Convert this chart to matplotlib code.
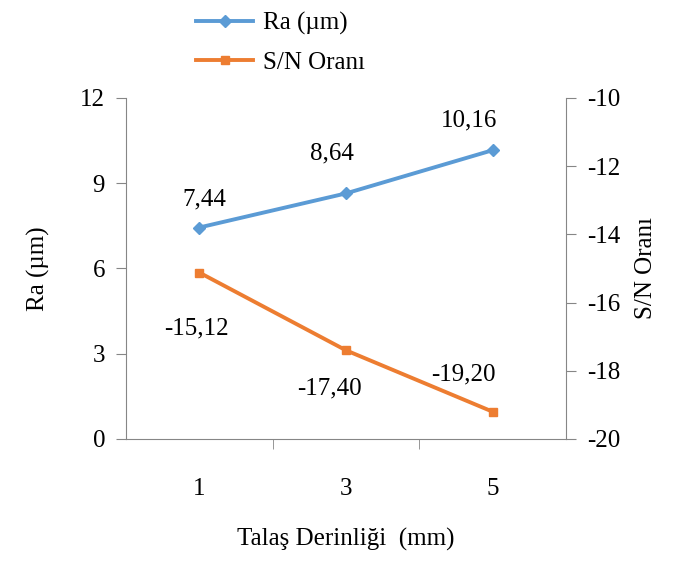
import numpy as np
import matplotlib
matplotlib.use("Agg")
import matplotlib.pyplot as plt

plt.rcParams['font.family'] = ['Liberation Serif', 'DejaVu Serif']
plt.rcParams['axes.unicode_minus'] = False

# data
depth_labels = ["1", "3", "5"]
ra = [7.44, 8.64, 10.16]
sn = [-15.12, -17.40, -19.20]
ra_txt = ["7,44", "8,64", "10,16"]
sn_txt = ["-15,12", "-17,40", "-19,20"]

blue, orange, grey = "#5B9BD5", "#ED7D31", "#868686"
fs = 18

fig = plt.figure(figsize=(6.77, 5.61), dpi=100)
ax = fig.add_axes([0.186, 0.2175, 0.650, 0.608])
ax2 = ax.twinx()

x = np.arange(len(depth_labels))
l1, = ax.plot(x, ra, color=blue, lw=2.8, marker="D", ms=6.5, label="Ra (µm)")
l2, = ax2.plot(x, sn, color=orange, lw=2.8, marker="s", ms=6, label="S/N Oranı")

ax.set_xlim(-0.5, 2.5)
ax.set_ylim(0, 12)
ax.set_yticks([0, 3, 6, 9, 12])
ax2.set_ylim(-20, -10)
ax2.set_yticks(np.arange(-20, -9, 2))

ax.set_xticks(x)
ax.set_xticklabels(depth_labels)
ax.set_xticks([0.5, 1.5], minor=True)
ax.tick_params(axis="x", which="major", length=0, pad=28, labelsize=fs)
ax.tick_params(axis="x", which="minor", length=7, color=grey, direction="out")
ax.tick_params(axis="y", length=7, color=grey, pad=8, labelsize=fs)
ax2.tick_params(axis="y", length=7, color=grey, pad=8, labelsize=fs)

for a in (ax, ax2):
    a.spines["top"].set_visible(False)
    for s in ("left", "right", "bottom"):
        a.spines[s].set_color(grey)
ax.spines["right"].set_visible(False)
ax2.spines["left"].set_visible(False)
ax2.spines["bottom"].set_visible(False)

ax.set_xlabel("Talaş Derinliği  (mm)", fontsize=fs, labelpad=20)
ax.set_ylabel("Ra (µm)", fontsize=fs, labelpad=22)
ax2.set_ylabel("S/N Oranı", fontsize=fs, labelpad=11)

# data labels
ra_off = [(5, 28), (-14, 40), (-24, 30)]
sn_off = [(-3, -56), (-17, -38), (-29, 37)]
for i in range(3):
    ax.annotate(ra_txt[i], (x[i], ra[i]), xytext=ra_off[i], textcoords="offset pixels",
                ha="center", va="center", fontsize=fs)
    ax2.annotate(sn_txt[i], (x[i], sn[i]), xytext=sn_off[i], textcoords="offset pixels",
                 ha="center", va="center", fontsize=fs)

fig.legend(handles=[l1, l2], loc="upper left", bbox_to_anchor=(0.257, 1.018), frameon=False,
           fontsize=fs, handlelength=2.25, labelspacing=0.65, handletextpad=0.4)

fig.savefig("out.png", dpi=100)
